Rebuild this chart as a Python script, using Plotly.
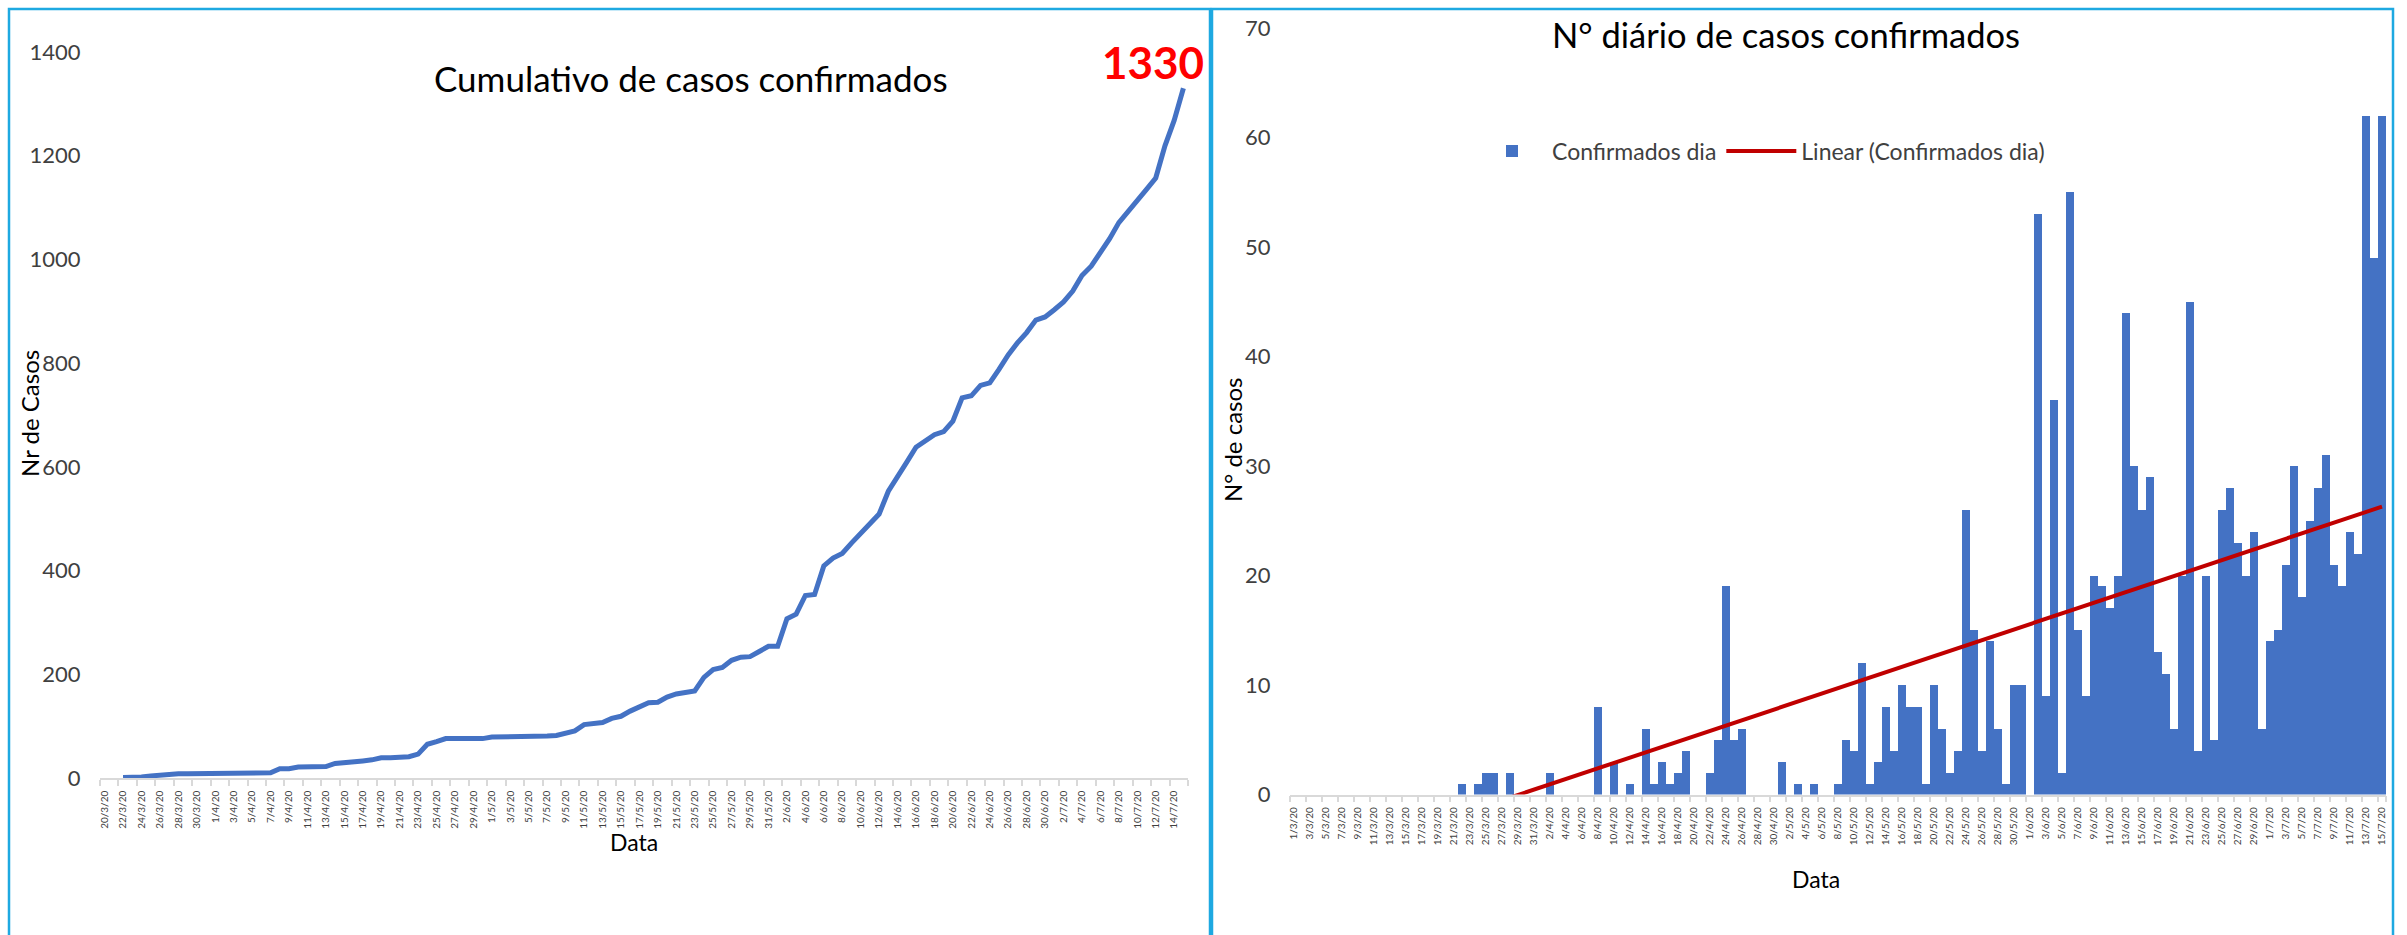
import numpy as np
import pandas as pd
import plotly.graph_objects as go

# ---------------- data ----------------
# daily chart categories: 1/3/2020 .. 15/7/2020
daily_dates = [f"{d.day}/{d.month}/20" for d in pd.date_range("2020-03-01", "2020-07-15")]
daily_cases = [
    0, 0, 0, 0, 0, 0, 0, 0, 0, 0, 0, 0, 0, 0, 0, 0, 0, 0, 0, 0, 0,   # 1/3 - 21/3
    1, 0, 1, 2, 2, 0, 2, 0, 0, 0,                                     # 22/3 - 31/3
    0, 2, 0, 0, 0, 0, 0, 8, 0, 3,                                     # 1/4 - 10/4
    0, 1, 0, 6, 1, 3, 1, 2, 4, 0,                                     # 11/4 - 20/4
    0, 2, 5, 19, 5, 6, 0, 0, 0, 0,                                    # 21/4 - 30/4
    3, 0, 1, 0, 1, 0, 0, 1, 5, 4,                                     # 1/5 - 10/5
    12, 1, 3, 8, 4, 10, 8, 8, 1, 10,                                  # 11/5 - 20/5
    6, 2, 4, 26, 15, 4, 14, 6, 1, 10, 10,                             # 21/5 - 31/5
    0, 53, 9, 36, 2, 55, 15, 9, 20, 19,                               # 1/6 - 10/6
    17, 20, 44, 30, 26, 29, 13, 11, 6, 20,                            # 11/6 - 20/6
    45, 4, 20, 5, 26, 28, 23, 20, 24, 6,                              # 21/6 - 30/6
    14, 15, 21, 30, 18, 25, 28, 31, 21, 19,                           # 1/7 - 10/7
    24, 22, 62, 49, 62,                                               # 11/7 - 15/7
]

# cumulative chart categories: 20/3/2020 .. 15/7/2020
cum_dates = [f"{d.day}/{d.month}/20" for d in pd.date_range("2020-03-20", "2020-07-15")]
cum_cases = [
    None, None,
    1, 1, 2, 4, 6, 6, 8, 8, 8, 8,
    8, 10, 10, 10, 10, 10, 10, 18, 18, 21,
    21, 22, 22, 28, 29, 32, 33, 35, 39, 39,
    39, 41, 46, 65, 70, 76, 76, 76, 76, 76,
    79, 79, 80, 80, 81, 81, 81, 82, 87, 91,
    103, 104, 107, 115, 119, 129, 137, 145, 146, 156,
    162, 164, 168, 194, 209, 213, 227, 233, 234, 244,
    254, 254, 307, 316, 352, 354, 409, 424, 433, 453,
    472, 489, 509, 553, 583, 609, 638, 651, 662, 668,
    688, 733, 737, 757, 762, 788, 816, 839, 859, 883,
    889, 903, 918, 939, 969, 987, 1012, 1040, 1071, 1092,
    1111, 1135, 1157, 1219, 1268, 1330,
]

cum_yticks = [0, 200, 400, 600, 800, 1000, 1200, 1400]
daily_yticks = [0, 10, 20, 30, 40, 50, 60, 70]

# ---------------- styling ----------------
W, H = 2407, 935
FONT = "Lato"
BLUE = "#4472C4"
RED = "#C00000"
AXIS_GREY = "#D9D9D9"
TICK_TXT = "#404040"
BORDER = "#1EA9E1"


def px(x):
    return x / W


def py(y):
    return 1 - y / H


xc = list(range(len(cum_dates)))
xd = list(range(len(daily_dates)))

# linear trendline (least squares on category index, as Excel does)
xi = np.arange(1, len(daily_cases) + 1)
slope, intercept = np.polyfit(xi, np.array(daily_cases, dtype=float), 1)
trend = (slope * xi + intercept).tolist()

fig = go.Figure()

fig.add_trace(go.Scatter(
    x=xc, y=cum_cases, mode="lines", name="Cumulativo",
    line=dict(color=BLUE, width=5), connectgaps=False,
    xaxis="x", yaxis="y", showlegend=False,
))

fig.add_trace(go.Bar(
    x=xd, y=daily_cases, name="Confirmados dia",
    marker=dict(color=BLUE, line=dict(width=0)),
    xaxis="x2", yaxis="y2",
))

fig.add_trace(go.Scatter(
    x=xd, y=trend, mode="lines", name="Linear (Confirmados dia)",
    line=dict(color=RED, width=4),
    xaxis="x2", yaxis="y2",
))

common_x = dict(
    tickmode="array", tickangle=-90, showgrid=False, zeroline=False,
    showline=True, linecolor=AXIS_GREY, linewidth=1.5,
    ticks="outside", ticklen=7, tickcolor="rgba(0,0,0,0)",
    tickfont=dict(family=FONT, size=10, color=TICK_TXT),
    fixedrange=True, automargin=False,
)
common_y = dict(
    tickmode="array", showgrid=False, zeroline=False, showline=False,
    ticks="outside", ticklen=14, tickcolor="rgba(0,0,0,0)",
    tickfont=dict(family=FONT, size=22, color=TICK_TXT),
    fixedrange=True, automargin=False,
)

fig.update_layout(
    width=W, height=H, autosize=False,
    margin=dict(l=0, r=0, t=0, b=0, pad=0),
    paper_bgcolor="white", plot_bgcolor="white",
    font=dict(family=FONT, color="black"),
    bargap=0,
    xaxis=dict(
        common_x, domain=[px(100), px(1188)], range=[-0.5, len(cum_dates) - 0.5],
        tickvals=xc[::2], ticktext=cum_dates[::2], anchor="y",
        minor=dict(tickvals=[v - 0.5 for v in xc[::2]] + [len(cum_dates) - 0.5],
                   ticks="outside", ticklen=6, tickcolor=AXIS_GREY, tickwidth=1.5),
    ),
    yaxis=dict(
        common_y, domain=[py(778), py(52)], range=[0, 1400],
        tickvals=cum_yticks, anchor="x",
    ),
    xaxis2=dict(
        common_x, domain=[px(1290), px(2386)], range=[-0.5, len(daily_dates) - 0.5],
        tickvals=xd[::2], ticktext=daily_dates[::2], anchor="y2",
        minor=dict(tickvals=[v - 0.5 for v in xd[::2]] + [len(daily_dates) - 0.5],
                   ticks="outside", ticklen=6, tickcolor=AXIS_GREY, tickwidth=1.5),
    ),
    yaxis2=dict(
        common_y, domain=[py(794.5), py(28)], range=[0, 70],
        tickvals=daily_yticks, anchor="x2",
    ),
    showlegend=True,
    legend=dict(
        orientation="h", x=px(1472), y=py(151), xanchor="left", yanchor="middle",
        font=dict(family=FONT, size=23, color=TICK_TXT), bgcolor="rgba(0,0,0,0)",
        itemwidth=70, traceorder="normal",
    ),
)

# panel borders
for x0, x1 in [(9, 1210), (1212, 2393)]:
    fig.add_shape(type="rect", xref="paper", yref="paper",
                  x0=px(x0), x1=px(x1), y0=py(H + 10), y1=py(9),
                  line=dict(color=BORDER, width=2.5), fillcolor="rgba(0,0,0,0)", layer="below")

ann = [
    dict(text="Cumulativo de casos confirmados", x=px(691), y=py(78), size=35, angle=0),
    dict(text="N° diário de casos confirmados", x=px(1786), y=py(34), size=34.5, angle=0),
    dict(text="Nr de Casos", x=px(29), y=py(414), size=24, angle=-90),
    dict(text="Data", x=px(634), y=py(842), size=23, angle=0),
    dict(text="N° de casos", x=px(1232), y=py(440), size=24, angle=-90),
    dict(text="Data", x=px(1816), y=py(879), size=23, angle=0),
]
for a in ann:
    fig.add_annotation(text=a["text"], x=a["x"], y=a["y"], xref="paper", yref="paper",
                       showarrow=False, textangle=a["angle"], xanchor="center", yanchor="middle",
                       font=dict(family=FONT, size=a["size"], color="black"))

# label of last cumulative value
fig.add_annotation(text=f"<b>{cum_cases[-1]}</b>", x=xc[-1], y=cum_cases[-1], xref="x", yref="y",
                   showarrow=False, xshift=-30, yshift=26,
                   font=dict(family=FONT, size=44, color="#FF0000"))

fig.write_html(
    "out.html",
    config={"displayModeBar": False},
    post_script="document.body.style.margin='0';document.body.style.overflow='hidden';",
)
